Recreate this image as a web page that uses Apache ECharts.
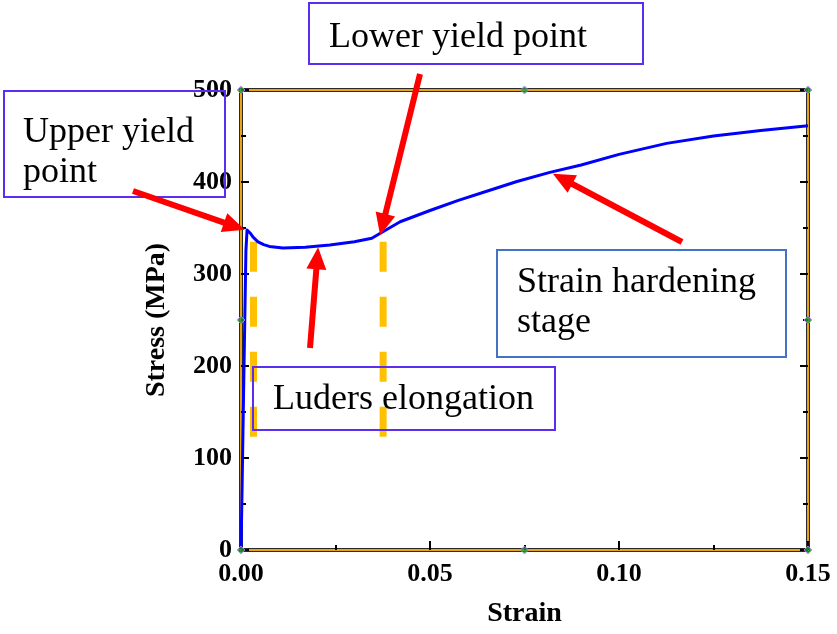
<!DOCTYPE html>
<html>
<head>
<meta charset="utf-8">
<script src="https://cdn.jsdelivr.net/npm/echarts@6/dist/echarts.min.js"></script>
<style>
  html, body { margin: 0; padding: 0; background: #ffffff; }
  #chart { width: 837px; height: 634px; }
</style>
</head>
<body>
<div id="chart"></div>
<script>
// Engineering stress-strain curve of a mild steel with a yield plateau
const strain = [0, 0.0003, 0.0006, 0.0009, 0.0011, 0.0013, 0.0016, 0.0020, 0.0024, 0.0032, 0.0045, 0.0060, 0.0075, 0.0111,
  0.0170, 0.0235, 0.0300, 0.0346, 0.0380, 0.0421, 0.0500, 0.0575, 0.0650, 0.0730, 0.0817, 0.0900, 0.1000, 0.1126,
  0.1250, 0.1375, 0.1500];
const stress = [0, 70, 150, 225, 275, 325, 347.8, 346.5, 344.6, 340, 335, 332, 330, 328.3,
  329, 331.5, 335, 338.8, 347, 356.8, 369, 380, 390, 400.5, 410.5, 418.5, 430, 442,
  450, 456, 461.2];

// Luders band boundaries (strain) and the stress span of the marker lines
const ludersStrain = [0.0033, 0.0376];
const ludersStress = [335, 114];

// Axis ranges and ticks
const xRange = [0, 0.15];
const xStep = 0.05;
const yRange = [0, 500];
const yStep = 100;

// Frame handles at the corners and edge midpoints
const handleX = [0, 0.075, 0.15, 0, 0.15, 0, 0.075, 0.15];
const handleY = [500, 500, 500, 250, 250, 0, 0, 0];

const serif = '"Liberation Serif", "Times New Roman", serif';
const frameOrange = '#E8A317';

const chart = echarts.init(document.getElementById('chart'), null, { renderer: 'canvas' });

const curve = strain.map((s, i) => [s, stress[i]]);
const ludersSeries = ludersStrain.map(s => ({
  type: 'line',
  data: [[s, ludersStress[0]], [s, ludersStress[1]]],
  symbol: 'none',
  z: 1,
  lineStyle: { color: '#FFC000', width: 7, type: [30, 25], cap: 'butt' },
  silent: true
}));

const tickStyle = { color: '#000', width: 2 };
const frameLine = { show: true, onZero: false, lineStyle: { color: frameOrange, width: 2 } };

chart.setOption({
  animation: false,
  backgroundColor: '#ffffff',
  grid: {
    left: 241, right: 29, top: 90, bottom: 84,
    containLabel: false,
    outerBoundsMode: 'none',
    show: true,
    borderColor: '#2a2a2a',
    borderWidth: 4,
    backgroundColor: 'transparent'
  },
  xAxis: [{
    type: 'value', min: xRange[0], max: xRange[1], interval: xStep,
    position: 'bottom',
    name: 'Strain', nameLocation: 'middle', nameGap: 50,
    nameTextStyle: { fontFamily: serif, fontWeight: 'bold', fontSize: 28, color: '#000' },
    axisLine: frameLine,
    axisTick: { show: true, inside: true, length: 9, lineStyle: tickStyle },
    minorTick: { show: true, splitNumber: 2, length: 5, lineStyle: tickStyle },
    splitLine: { show: false },
    axisLabel: {
      margin: 11, fontFamily: serif, fontWeight: 'bold', fontSize: 26, color: '#000',
      formatter: v => v.toFixed(2)
    }
  }, {
    type: 'value', min: xRange[0], max: xRange[1], interval: xStep,
    position: 'top',
    axisLine: frameLine,
    axisTick: { show: false }, axisLabel: { show: false }, splitLine: { show: false }
  }],
  yAxis: [{
    type: 'value', min: yRange[0], max: yRange[1], interval: yStep,
    position: 'left',
    name: 'Stress (MPa)', nameLocation: 'middle', nameGap: 70, nameRotate: 90,
    nameTextStyle: { fontFamily: serif, fontWeight: 'bold', fontSize: 28, color: '#000' },
    axisLine: frameLine,
    axisTick: { show: true, inside: true, length: 8, lineStyle: tickStyle },
    minorTick: { show: true, splitNumber: 2, length: 5, lineStyle: tickStyle },
    splitLine: { show: false },
    axisLabel: { margin: 9, fontFamily: serif, fontWeight: 'bold', fontSize: 26, color: '#000' }
  }, {
    type: 'value', min: yRange[0], max: yRange[1], interval: yStep,
    position: 'right',
    axisLine: frameLine,
    axisTick: { show: true, inside: true, length: 8, lineStyle: tickStyle },
    minorTick: { show: true, splitNumber: 2, length: 5, lineStyle: tickStyle },
    axisLabel: { show: false }, splitLine: { show: false }
  }],
  series: [
    ...ludersSeries,
    {
      type: 'line',
      data: curve,
      symbol: 'none',
      smooth: false,
      z: 3,
      lineStyle: { color: '#0000FF', width: 3, join: 'round' },
      silent: true
    },
    {
      type: 'scatter',
      data: handleX.map((x, i) => [x, handleY[i]]),
      symbol: 'diamond',
      symbolSize: 8,
      z: 5,
      itemStyle: { color: '#1E9E3A', borderColor: '#C77DFF', borderWidth: 1 },
      silent: true
    }
  ]
});

// Annotation callouts: framed labels and red arrows pointing at the curve
function arrow(x1, y1, x2, y2, shaft, headLen, headW, color) {
  const dx = x2 - x1, dy = y2 - y1;
  const len = Math.hypot(dx, dy);
  const ux = dx / len, uy = dy / len;
  const nx = -uy, ny = ux;
  const bx = x2 - ux * headLen, by = y2 - uy * headLen;
  const h = shaft / 2, w = headW / 2;
  return {
    type: 'polygon',
    z: 20,
    shape: {
      points: [
        [x1 + nx * h, y1 + ny * h],
        [bx + nx * h, by + ny * h],
        [bx + nx * w, by + ny * w],
        [x2, y2],
        [bx - nx * w, by - ny * w],
        [bx - nx * h, by - ny * h],
        [x1 - nx * h, y1 - ny * h]
      ]
    },
    style: { fill: color }
  };
}

function box(x, y, w, h, color) {
  return {
    type: 'rect', z: 15,
    shape: { x: x, y: y, width: w, height: h },
    style: { fill: 'none', stroke: color, lineWidth: 2 }
  };
}

function label(x, y, text) {
  return {
    type: 'text', z: 16, x: x, y: y,
    style: { text: text, fill: '#000', font: '36px ' + serif, lineHeight: 40, verticalAlign: 'top' }
  };
}

const purple = '#5A2DF0';
const blue = '#4472C4';
const red = '#FF0000';

const px = (s, v) => chart.convertToPixel({ xAxisIndex: 0, yAxisIndex: 0 }, [s, v]);
const upperTip = px(0.0010, 348);
const lowerTip = px(0.0368, 342);
const plateauTip = px(0.0204, 329);
const hardenTip = px(0.0825, 409);

chart.setOption({
  graphic: [
    box(4, 91, 221, 106, purple),
    label(23, 113, 'Upper yield\npoint'),
    box(309, 3, 334, 61, purple),
    label(329, 18, 'Lower yield point'),
    box(253, 367, 302, 63, purple),
    label(273, 380, 'Luders elongation'),
    box(497, 250, 289, 107, blue),
    label(517, 263, 'Strain hardening\nstage'),
    arrow(133, 191, upperTip[0], upperTip[1], 6, 22, 20, red),
    arrow(420, 74, lowerTip[0], lowerTip[1], 6, 22, 20, red),
    arrow(310, 348, plateauTip[0], plateauTip[1], 6, 22, 20, red),
    arrow(682, 242, hardenTip[0], hardenTip[1], 6, 22, 20, red)
  ]
});
</script>
</body>
</html>
